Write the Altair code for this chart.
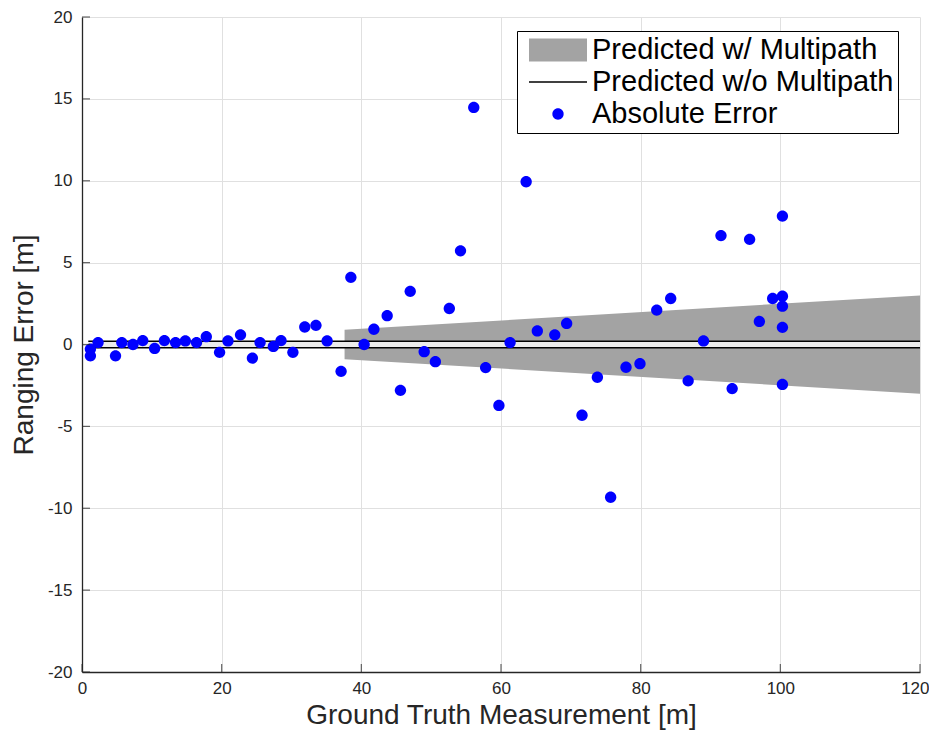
import altair as alt
import pandas as pd

# Absolute error points (ground truth [m], ranging error [m])
gt = [1.2, 1.2, 2.3, 4.8, 5.7, 7.3, 8.7, 10.4, 11.8, 13.4, 14.8, 16.4, 17.8,
      19.7, 20.9, 22.7, 24.4, 25.5, 27.4, 28.5, 30.2, 31.9, 33.5, 35.1, 37.1,
      38.5, 40.4, 41.8, 43.7, 45.6, 47.0, 49.0, 50.6, 52.6, 54.2, 56.1, 57.8,
      59.7, 61.3, 63.6, 65.2, 67.7, 69.4, 71.6, 73.8, 75.7, 77.9, 79.9, 82.3,
      84.3, 86.8, 89.0, 91.5, 93.1, 95.6, 97.0, 98.9, 100.3, 100.3, 100.3,
      100.3, 100.3]
err = [-0.28, -0.69, 0.12, -0.69, 0.12, 0.0, 0.24, -0.24, 0.24, 0.12, 0.22,
       0.12, 0.48, -0.48, 0.22, 0.59, -0.83, 0.12, -0.12, 0.24, -0.48, 1.07,
       1.17, 0.22, -1.64, 4.1, 0.0, 0.93, 1.76, -2.8, 3.25, -0.44, -1.05, 2.2,
       5.72, 14.48, -1.41, -3.72, 0.12, 9.94, 0.83, 0.59, 1.29, -4.32, -2.0,
       -9.33, -1.39, -1.17, 2.1, 2.81, -2.22, 0.22, 6.65, -2.69, 6.42, 1.41,
       2.81, 7.84, 2.95, 2.34, 1.05, -2.44]

# Predicted band with multipath (edges)
band_x = [37.6, 120]
band_hi = [0.9, 3.0]
band_lo = [-0.9, -3.0]

# Predicted without multipath (two bounds)
nomp_x1 = [0.9, 0.9]
nomp_x2 = [120, 120]
nomp_y = [0.2, -0.2]

x_ticks = [0, 20, 40, 60, 80, 100, 120]
y_ticks = [-20, -15, -10, -5, 0, 5, 10, 15, 20]

labels = ["Predicted w/ Multipath", "Predicted w/o Multipath", "Absolute Error"]

FONT = "Liberation Sans"

pts = pd.DataFrame({"gt": gt, "err": err, "series": "Absolute Error"})
band = pd.DataFrame({"x": band_x, "hi": band_hi, "lo": band_lo})
nomp = pd.DataFrame({"x1": nomp_x1, "x2": nomp_x2, "y": nomp_y})
strip = pd.DataFrame({"x1": [nomp_x1[0]], "x2": [nomp_x2[0]],
                      "y1": [nomp_y[0]], "y2": [nomp_y[1]]})
xt = pd.DataFrame({"v": x_ticks})
yt = pd.DataFrame({"v": y_ticks})

xscale = alt.Scale(domain=[0, 120], nice=False, zero=False)
yscale = alt.Scale(domain=[-20, 20], nice=False, zero=False)
last_x = x_ticks[-1]
xaxis = alt.Axis(values=x_ticks, title="Ground Truth Measurement [m]",
                 titlePadding=5, labelPadding=8, labelFlush=False,
                 labelExpr="'' + datum.value",
                 labelAlign={"condition": {"test": f"datum.value == {last_x}",
                                           "value": "right"},
                             "value": "center"},
                 labelOffset={"condition": {"test": f"datum.value == {last_x}",
                                            "value": 9},
                              "value": 0})
yaxis = alt.Axis(values=y_ticks, title="Ranging Error [m]",
                 titlePadding=9, labelPadding=10, labelFlush=False,
                 labelExpr="'' + datum.value")

SYM = 3364  # symbol area -> 58 px wide custom paths
R = 0.195   # dot radius in path units (about 5.7 px)
circle_path = (f"M{-R},0A{R},{R},0,1,0,{R},0A{R},{R},0,1,0,{-R},0Z")


def X(f):
    return alt.X(f, type="quantitative", scale=xscale, axis=xaxis)


def Y(f):
    return alt.Y(f, type="quantitative", scale=yscale, axis=yaxis)


band_layer = alt.Chart(band).mark_area(color="#a3a3a3", opacity=1).encode(
    x=X("x"), y=Y("hi"), y2="lo")

strip_layer = alt.Chart(strip).mark_rect(color="#ebebeb").encode(
    x=X("x1"), x2="x2", y=Y("y1"), y2="y2")

line_layer = alt.Chart(nomp).mark_rule(color="black", strokeWidth=1.4).encode(
    x=X("x1"), x2="x2", y=Y("y"))

point_layer = alt.Chart(pts).mark_point(filled=True, opacity=1, size=SYM,
                                        strokeWidth=0).encode(
    x=X("gt"), y=Y("err"),
    color=alt.Color("series:N",
                    scale=alt.Scale(domain=labels,
                                    range=["#a3a3a3", "#000000", "#0000ff"]),
                    legend=alt.Legend(title=None, orient="none",
                                      legendX=435, legendY=14,
                                      labelFont=FONT, labelFontSize=29,
                                      labelColor="black", labelLimit=500,
                                      labelOffset=5, clipHeight=30,
                                      rowPadding=2, padding=4,
                                      symbolOffset=8,
                                      strokeColor="black", fillColor="white",
                                      symbolSize=SYM, symbolStrokeWidth=0)),
    shape=alt.Shape("series:N",
                    scale=alt.Scale(domain=labels,
                                    range=["M-1,-0.4H1V0.4H-1Z",
                                           "M-1,-0.026H1V0.026H-1Z",
                                           circle_path])),
)

ytick_layer = alt.Chart(yt).mark_tick(orient="horizontal", size=8,
                                      thickness=1.2, color="#262626").encode(
    y=Y("v"), x=alt.value(4))

xtick_layer = alt.Chart(xt).mark_tick(orient="vertical", size=8,
                                      thickness=1.2, color="#262626").encode(
    x=X("v"), y=alt.value(651))

chart = alt.layer(band_layer, strip_layer, line_layer, point_layer,
                  ytick_layer, xtick_layer).properties(
    width=838, height=655,
    autosize=alt.AutoSizeParams(type="none"),
    padding={"left": 74, "top": 9, "right": 9, "bottom": 60},
).configure_view(strokeWidth=0).configure_axis(
    grid=True, gridColor="#e0e0e0", gridWidth=1,
    domainColor="#262626", domainWidth=1.3,
    ticks=False,
    labelFont=FONT, labelFontSize=17, labelColor="#262626",
    titleFont=FONT, titleFontSize=28, titleFontWeight="normal",
    titleColor="#262626",
)

chart.save("out.html", embed_options={"renderer": "svg", "actions": False})
